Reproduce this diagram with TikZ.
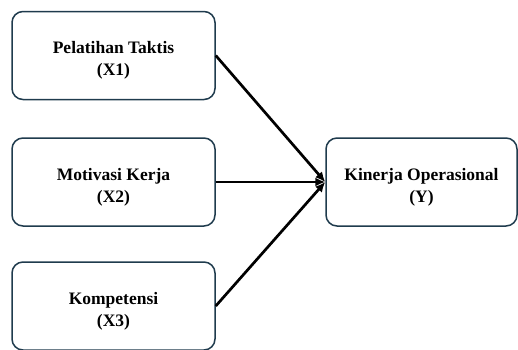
\documentclass[tikz,border=0pt]{standalone}
\usepackage{fontspec}
\setmainfont{Liberation Serif}
\usepackage{tikz}
\usetikzlibrary{arrows.meta,positioning}
\usepackage{xcolor}
\definecolor{boxline}{HTML}{1F3B4D}
\tikzset{
  varbox/.style = {draw=boxline, line width=1.5pt, rounded corners=11pt,
                   minimum width=203pt, minimum height=88pt, align=center,
                   text height=44pt,
                   font=\fontsize{17.5}{22}\selectfont\bfseries},
  path/.style   = {-{Latex[length=10pt,width=9pt]}, line width=2.7pt},
}

\begin{document}
\begin{tikzpicture}[x=1pt,y=-1pt]
\useasboundingbox (0,0) rectangle (518,349);
\node[varbox] (x1) at (113.5,55.5) {Pelatihan Taktis\\(X1)};
\node[varbox] (x2) at (113.5,182) {Motivasi Kerja\\(X2)};
\node[varbox] (x3) at (113.5,306) {Kompetensi\\(X3)};
\node[varbox, minimum width=191pt] (y) at (421.5,182) {Kinerja Operasional\\(Y)};
\draw[path] (x1.east) -- (y.west);
\draw[path] (x2.east) -- (y.west);
\draw[path] (x3.east) -- (y.west);
\end{tikzpicture}
\end{document}
